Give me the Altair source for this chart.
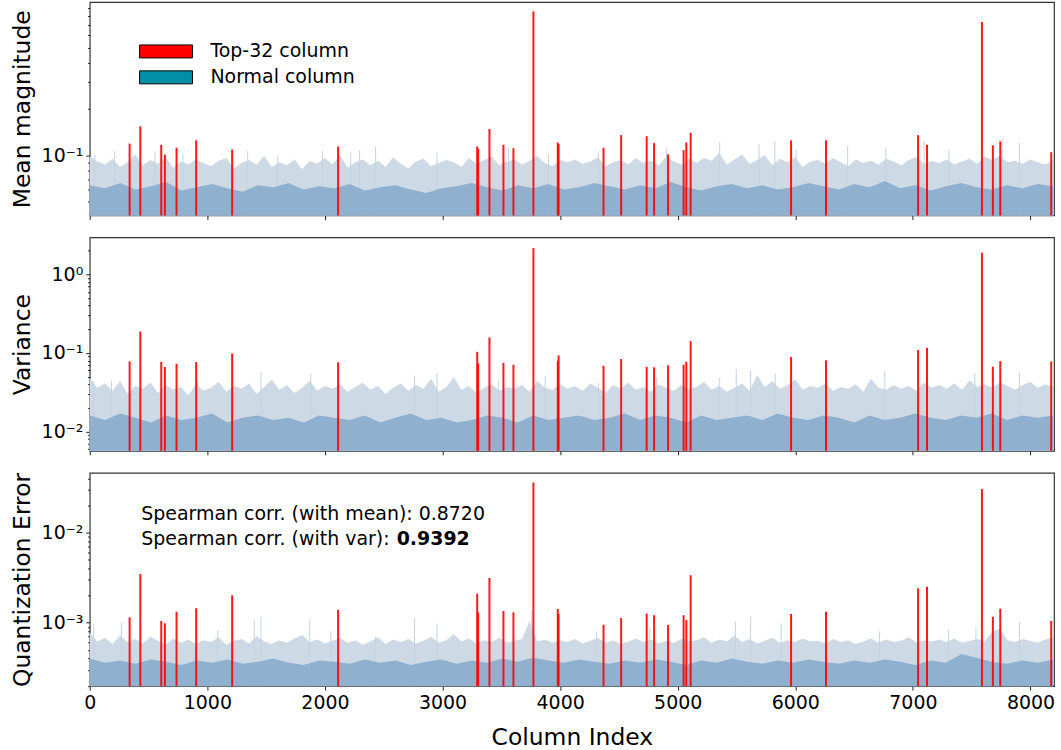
import math
import altair as alt
import pandas as pd

# ---------------- data ----------------
top_cols = [339, 430, 608, 639, 738, 905, 1211, 2112, 3295, 3303, 3399, 3518, 3603, 3773, 3980, 3987,
            4369, 4519, 4736, 4799, 4918, 5050, 5073, 5110, 5964, 6261, 7044, 7120, 7587, 7680, 7743, 8176]

top_mean = [0.119, 0.154, 0.117, 0.101, 0.112, 0.125, 0.109, 0.114, 0.114, 0.110, 0.148, 0.117, 0.111, 0.857, 0.121, 0.118,
            0.112, 0.135, 0.133, 0.120, 0.1015, 0.108, 0.121, 0.140, 0.125, 0.125, 0.135, 0.117, 0.731, 0.116, 0.123, 0.1046]

top_var = [0.0781, 0.1876, 0.0772, 0.0662, 0.0728, 0.0766, 0.0987, 0.0759, 0.1034, 0.0737, 0.1575, 0.0750, 0.0708, 2.157, 0.0795, 0.0931,
           0.0687, 0.0836, 0.0668, 0.0656, 0.0695, 0.0708, 0.0772, 0.1413, 0.0886, 0.0805, 0.1087, 0.1162, 1.884, 0.0668, 0.0788, 0.0781]

top_qerr = [0.001148, 0.003475, 0.001045, 0.000984, 0.001325, 0.001445, 0.002015, 0.001394, 0.00210, 0.001292, 0.00314, 0.00135,
            0.001305, 0.03594, 0.00142, 0.00125, 0.00095, 0.001127, 0.00126, 0.00121, 0.000942, 0.00121, 0.00107, 0.003365,
            0.00125, 0.001325, 0.00241, 0.00251, 0.03034, 0.001166, 0.00143, 0.001045]

# upper envelope of the normal columns (one value per 64 columns)
mean_peak = [0.099, 0.091, 0.087, 0.095, 0.084, 0.090, 0.101, 0.086, 0.093, 0.088, 0.097, 0.083, 0.091, 0.087, 0.094, 0.089,
             0.085, 0.092, 0.096, 0.082, 0.089, 0.093, 0.087, 0.099, 0.084, 0.090, 0.086, 0.094, 0.081, 0.092, 0.088, 0.096,
             0.087, 0.100, 0.083, 0.090, 0.094, 0.086, 0.092, 0.084, 0.097, 0.088, 0.082, 0.091, 0.095, 0.085, 0.089, 0.093,
             0.090, 0.084, 0.096, 0.088, 0.093, 0.098, 0.086, 0.091, 0.094, 0.087, 0.092, 0.099, 0.089, 0.085, 0.093, 0.090,
             0.094, 0.088, 0.091, 0.097, 0.085, 0.090, 0.093, 0.087, 0.096, 0.089, 0.092, 0.086, 0.098, 0.091, 0.087, 0.095,
             0.089, 0.096, 0.092, 0.104, 0.087, 0.094, 0.101, 0.088, 0.093, 0.100, 0.086, 0.095, 0.090, 0.097, 0.084, 0.091,
             0.093, 0.088, 0.096, 0.090, 0.085, 0.094, 0.089, 0.092, 0.087, 0.095, 0.091, 0.086, 0.093, 0.097, 0.088, 0.092,
             0.089, 0.094, 0.087, 0.091, 0.095, 0.088, 0.098, 0.093, 0.099, 0.090, 0.092, 0.088, 0.094, 0.090, 0.087, 0.093]
# level reached by nearly all normal columns (one value per 128 columns)
mean_base = [0.064, 0.061, 0.066, 0.060, 0.063, 0.067, 0.059, 0.062, 0.065, 0.061, 0.058, 0.064, 0.062, 0.066, 0.060, 0.063,
             0.061, 0.065, 0.059, 0.062, 0.064, 0.060, 0.057, 0.061, 0.063, 0.066, 0.062, 0.059, 0.064, 0.061, 0.065, 0.060,
             0.062, 0.066, 0.063, 0.060, 0.064, 0.061, 0.067, 0.062, 0.059, 0.063, 0.065, 0.061, 0.064, 0.060, 0.062, 0.066,
             0.063, 0.060, 0.065, 0.062, 0.068, 0.061, 0.064, 0.059, 0.063, 0.066, 0.062, 0.060, 0.064, 0.061, 0.065, 0.063]
# individual tall normal columns
mean_spike_cols = [43, 212, 554, 792, 1343, 1598, 1979, 2219, 2295, 2431, 2954, 3561, 3900, 4325, 4905,
                   5357, 5691, 5826, 6007, 6445, 6770, 7095, 7307, 7759, 7906]
mean_spike_vals = [0.1015, 0.1066, 0.1066, 0.1015, 0.1066, 0.099, 0.1066, 0.104, 0.108, 0.114, 0.104, 0.112, 0.1015, 0.104, 0.112,
                   0.122, 0.118, 0.122, 0.109, 0.115, 0.112, 0.124, 0.109, 0.127, 0.120]

var_peak = [0.048, 0.036, 0.041, 0.033, 0.044, 0.030, 0.038, 0.035, 0.042, 0.031, 0.039, 0.034, 0.037, 0.029, 0.040, 0.033,
            0.036, 0.043, 0.032, 0.038, 0.035, 0.041, 0.030, 0.037, 0.046, 0.034, 0.039, 0.031, 0.036, 0.044, 0.033, 0.038,
            0.035, 0.040, 0.032, 0.037, 0.042, 0.034, 0.038, 0.030, 0.036, 0.041, 0.033, 0.039, 0.035, 0.047, 0.032, 0.037,
            0.049, 0.034, 0.038, 0.031, 0.036, 0.040, 0.033, 0.037, 0.035, 0.039, 0.032, 0.044, 0.036, 0.034, 0.040, 0.035,
            0.038, 0.033, 0.041, 0.036, 0.031, 0.039, 0.035, 0.042, 0.034, 0.037, 0.032, 0.040, 0.036, 0.033, 0.039, 0.035,
            0.037, 0.043, 0.034, 0.038, 0.032, 0.036, 0.041, 0.033, 0.052, 0.037, 0.044, 0.035, 0.039, 0.046, 0.034, 0.038,
            0.036, 0.041, 0.033, 0.037, 0.035, 0.040, 0.032, 0.047, 0.036, 0.034, 0.039, 0.035, 0.038, 0.033, 0.042, 0.036,
            0.039, 0.035, 0.041, 0.034, 0.045, 0.037, 0.040, 0.036, 0.042, 0.038, 0.034, 0.039, 0.043, 0.036, 0.040, 0.037]
var_base = [0.016, 0.014, 0.017, 0.015, 0.013, 0.016, 0.014, 0.015, 0.017, 0.013, 0.015, 0.016, 0.014, 0.015, 0.013, 0.016,
            0.015, 0.014, 0.016, 0.013, 0.015, 0.017, 0.014, 0.015, 0.013, 0.014, 0.016, 0.015, 0.013, 0.016, 0.014, 0.015,
            0.016, 0.014, 0.015, 0.017, 0.014, 0.016, 0.015, 0.013, 0.016, 0.014, 0.015, 0.016, 0.014, 0.017, 0.015, 0.014,
            0.016, 0.015, 0.013, 0.016, 0.014, 0.015, 0.017, 0.015, 0.014, 0.016, 0.015, 0.017, 0.014, 0.016, 0.015, 0.016]
var_spike_cols = [29, 184, 919, 1456, 1880, 2762, 2954, 3477, 3873, 4325, 4820,
                  5357, 5498, 5620, 5829, 6761, 7527, 7906]
var_spike_vals = [0.0443, 0.0443, 0.0423, 0.0567, 0.054, 0.0513, 0.0555, 0.0443, 0.0513, 0.0413, 0.0489,
                  0.0489, 0.0624, 0.0594, 0.054, 0.0594, 0.055, 0.0567]

qerr_peak = [0.00078, 0.00062, 0.00068, 0.00058, 0.00072, 0.00061, 0.00066, 0.00059, 0.00070, 0.00063, 0.00057, 0.00067, 0.00060, 0.00065, 0.00058, 0.00064,
             0.00061, 0.00069, 0.00057, 0.00063, 0.00066, 0.00059, 0.00071, 0.00062, 0.00058, 0.00064, 0.00060, 0.00067, 0.00073, 0.00061, 0.00065, 0.00059,
             0.00063, 0.00068, 0.00060, 0.00064, 0.00057, 0.00062, 0.00069, 0.00058, 0.00065, 0.00061, 0.00066, 0.00059, 0.00063, 0.00070, 0.00060, 0.00064,
             0.00075, 0.00062, 0.00067, 0.00059, 0.00064, 0.00061, 0.00068, 0.00060, 0.00063, 0.00066, 0.00105, 0.00062, 0.00065, 0.00060, 0.00064, 0.00061,
             0.00066, 0.00059, 0.00063, 0.00068, 0.00060, 0.00064, 0.00058, 0.00062, 0.00067, 0.00061, 0.00065, 0.00059, 0.00063, 0.00060, 0.00066, 0.00062,
             0.00064, 0.00069, 0.00060, 0.00065, 0.00062, 0.00072, 0.00061, 0.00066, 0.00059, 0.00063, 0.00068, 0.00060, 0.00064, 0.00061, 0.00067, 0.00062,
             0.00063, 0.00059, 0.00066, 0.00061, 0.00064, 0.00058, 0.00062, 0.00067, 0.00060, 0.00065, 0.00061, 0.00063, 0.00069, 0.00060, 0.00064, 0.00062,
             0.00065, 0.00061, 0.00067, 0.00060, 0.00063, 0.00066, 0.00062, 0.00080, 0.00085, 0.00064, 0.00061, 0.00066, 0.00063, 0.00060, 0.00065, 0.00068]
qerr_base = [0.00040, 0.00036, 0.00038, 0.00035, 0.00039, 0.00037, 0.00034, 0.00038, 0.00036, 0.00039, 0.00035, 0.00037, 0.00040, 0.00036, 0.00034, 0.00038,
             0.00037, 0.00035, 0.00039, 0.00036, 0.00038, 0.00034, 0.00037, 0.00039, 0.00035, 0.00038, 0.00036, 0.00040, 0.00037, 0.00041, 0.00038, 0.00036,
             0.00039, 0.00037, 0.00035, 0.00038, 0.00036, 0.00039, 0.00037, 0.00034, 0.00038, 0.00036, 0.00040, 0.00037, 0.00035, 0.00038, 0.00036, 0.00039,
             0.00037, 0.00035, 0.00038, 0.00036, 0.00039, 0.00037, 0.00034, 0.00038, 0.00036, 0.00045, 0.00041, 0.00037, 0.00035, 0.00038, 0.00036, 0.00039]
qerr_spike_cols = [34, 269, 1089, 1399, 1456, 1871, 2050, 2431, 2762, 2954, 3760, 4311, 4763,
                   5490, 5620, 5880, 6715, 7303, 7536, 7906]
qerr_spike_vals = [0.00097, 0.00101, 0.00083, 0.00107, 0.00115, 0.0011, 0.00081, 0.00070, 0.00112, 0.00098, 0.00138, 0.00080, 0.00090,
                   0.00103, 0.00117, 0.00098, 0.00080, 0.00083, 0.00090, 0.00101]

legend_labels = ["Top-32 column", "Normal column"]
x_ticks = [0, 1000, 2000, 3000, 4000, 5000, 6000, 7000, 8000]
annot_mean = "Spearman corr. (with mean): 0.8720"
annot_var = "Spearman corr. (with var): "
annot_bold = "0.9392"

# ---------------- styling ----------------
N_COLS = 8192
X_DOMAIN = [0, 8200]
W, H = 967, 214
FONT = "DejaVu Sans"
RED = "#ff0000"
TEAL = "#008fa6"
LIGHT = "#cddae6"
SPIKE = "#c3d3e1"
SOLID = "#8fb0cf"
SUP = {"-": "\u207b", "0": "\u2070", "1": "\u00b9", "2": "\u00b2", "3": "\u00b3"}

P1_DOM = (0.0407, 0.985)
P2_DOM = (0.00569, 2.95)
P3_DOM = (0.000198, 0.0461)


def sup(e):
    return "10" + "".join(SUP[c] for c in str(e))


def env_df(vals):
    n = len(vals)
    return pd.DataFrame({"col": [i * (N_COLS - 1) / (n - 1) for i in range(n)], "v": vals})


def xs():
    return alt.Scale(domain=X_DOMAIN, nice=False, zero=False)


def panel(title, peak, base, spike_cols, spike_vals, top, domain, majors, minors, bottom, extra=()):
    lo, hi = domain
    yscale = alt.Scale(type="log", domain=[lo, hi], nice=False)
    tick_vals = sorted(majors + minors)
    maj = ",".join(repr(m) for m in majors)
    label_expr = " : ".join(f"datum.value == {m!r} ? '{sup(round(math.log10(m)))}'" for m in majors) + " : ''"
    yaxis = alt.Axis(
        values=tick_vals, labelExpr=label_expr, title=title, titleFontSize=23.5, titleFont=FONT,
        titleFontWeight="normal", titleX=-67, titleY=H / 2, titleAlign="center", titleBaseline="middle",
        titleAngle=270, labelFontSize=19, labelFont=FONT, labelPadding=3, grid=False, domain=False,
        tickSize={"condition": {"test": f"indexof([{maj}], datum.value) >= 0", "value": 4}, "value": 2.2},
        tickColor="#222", labelColor="#000", titleColor="#000",
    )
    if bottom:
        xaxis = alt.Axis(values=x_ticks, title="Column Index", titleFontSize=23.5, titleFont=FONT,
                         titleFontWeight="normal", titlePadding=14, labelFontSize=19, labelFont=FONT,
                         labelPadding=3, tickSize=4, grid=False, domain=False, tickColor="#222",
                         labelColor="#000", titleColor="#000", format="d", labelFlush=False)
    else:
        xaxis = alt.Axis(values=x_ticks, labels=False, title=None, tickSize=4, grid=False, domain=False,
                         tickColor="#222")

    peak_layer = alt.Chart(env_df(peak)).mark_area(color=LIGHT, interpolate="linear").encode(
        x=alt.X("col:Q", scale=xs(), axis=xaxis),
        y=alt.Y("v:Q", scale=yscale, axis=yaxis),
        y2=alt.datum(lo),
    )
    spike_layer = alt.Chart(pd.DataFrame({"col": spike_cols, "v": spike_vals})).mark_rule(
        color=SPIKE, strokeWidth=1).encode(
        x=alt.X("col:Q", scale=xs()),
        y=alt.Y("v:Q", scale=yscale),
        y2=alt.datum(lo),
    )
    base_layer = alt.Chart(env_df(base)).mark_area(color=SOLID, interpolate="linear").encode(
        x=alt.X("col:Q", scale=xs()),
        y=alt.Y("v:Q", scale=yscale),
        y2=alt.datum(lo),
    )
    red_layer = alt.Chart(pd.DataFrame({"col": top_cols, "v": top})).mark_rule(
        color=RED, strokeWidth=2, opacity=0.9).encode(
        x=alt.X("col:Q", scale=xs()),
        y=alt.Y("v:Q", scale=yscale),
        y2=alt.datum(lo),
    )
    layers = [peak_layer, spike_layer, base_layer, red_layer] + list(extra)
    return alt.layer(*layers).properties(width=W, height=H)


# legend (panel 1): a 53x13 px patch drawn from a wide custom symbol path
legend_layer = alt.Chart(pd.DataFrame({"kind": legend_labels, "col": [0, 0], "v": [1e-9, 1e-9]})).mark_square(
    filled=True, clip=True, opacity=1).encode(
    x=alt.X("col:Q", scale=xs()),
    y=alt.Y("v:Q", scale=alt.Scale(type="log", domain=list(P1_DOM), nice=False)),
    color=alt.Color("kind:N", scale=alt.Scale(domain=legend_labels, range=[RED, TEAL]),
                    legend=alt.Legend(title=None, orient="none", legendX=67, legendY=40,
                                      symbolType="M-4.08,-1L4.08,-1L4.08,1L-4.08,1Z", symbolSize=169,
                                      symbolStrokeColor="black", symbolStrokeWidth=1, symbolOpacity=1,
                                      labelFontSize=19, labelFont=FONT, labelColor="#000", labelOffset=35,
                                      rowPadding=6, padding=0)),
)

annot_df = pd.DataFrame({"col": [438, 438], "v": [0.01615, 0.00851], "t": [annot_mean, annot_var]})
annot_layer = alt.Chart(annot_df).mark_text(align="left", baseline="middle", font=FONT, fontSize=19,
                                              color="#000").encode(
    x=alt.X("col:Q", scale=xs()),
    y=alt.Y("v:Q", scale=alt.Scale(type="log", domain=list(P3_DOM), nice=False)),
    text="t:N",
)
bold_df = pd.DataFrame({"col": [2610], "v": [0.00851], "t": [annot_bold]})
bold_layer = alt.Chart(bold_df).mark_text(align="left", baseline="middle", font=FONT, fontSize=19,
                                            fontWeight="bold", color="#000").encode(
    x=alt.X("col:Q", scale=xs()),
    y=alt.Y("v:Q", scale=alt.Scale(type="log", domain=list(P3_DOM), nice=False)),
    text="t:N",
)

p1 = panel("Mean magnitude", mean_peak, mean_base, mean_spike_cols, mean_spike_vals, top_mean, P1_DOM, [0.1],
           [0.05, 0.06, 0.07, 0.08, 0.09, 0.2, 0.3, 0.4, 0.5, 0.6, 0.7, 0.8, 0.9], False, extra=[legend_layer])
p2 = panel("Variance", var_peak, var_base, var_spike_cols, var_spike_vals, top_var, P2_DOM, [0.01, 0.1, 1],
           [0.006, 0.007, 0.008, 0.009, 0.02, 0.03, 0.04, 0.05, 0.06, 0.07, 0.08, 0.09,
            0.2, 0.3, 0.4, 0.5, 0.6, 0.7, 0.8, 0.9, 2], False)
p3 = panel("Quantization Error", qerr_peak, qerr_base, qerr_spike_cols, qerr_spike_vals, top_qerr, P3_DOM,
           [0.001, 0.01],
           [0.0002, 0.0003, 0.0004, 0.0005, 0.0006, 0.0007, 0.0008, 0.0009,
            0.002, 0.003, 0.004, 0.005, 0.006, 0.007, 0.008, 0.009, 0.02, 0.03, 0.04], True,
           extra=[annot_layer, bold_layer])

chart = alt.vconcat(p1, p2, p3, spacing=22, bounds="flush").resolve_scale(y="independent").properties(
    padding={"left": 10, "top": 0, "right": 5, "bottom": 5},
    background="white",
).configure_view(stroke="#333", strokeWidth=1.2).configure_concat(spacing=22)

chart.save("out.html", embed_options={"renderer": "svg", "actions": False})
